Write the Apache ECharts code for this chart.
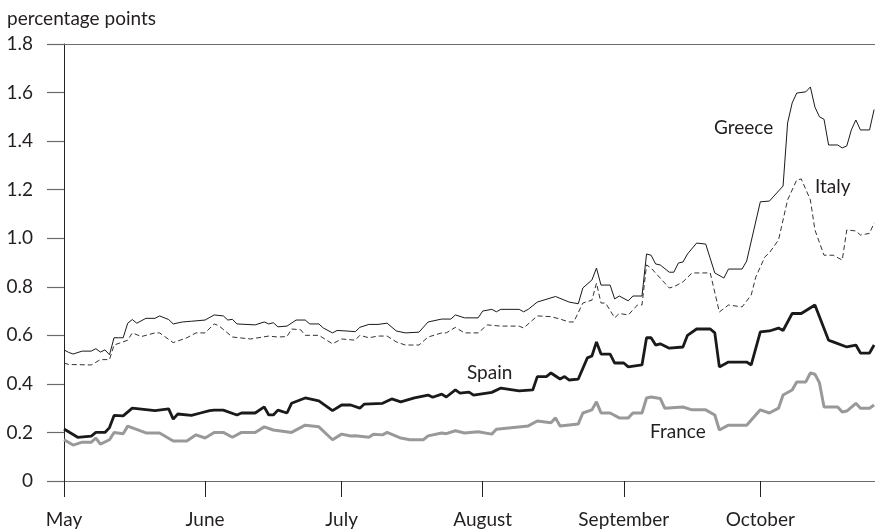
<!DOCTYPE html>
<html>
<head>
<meta charset="utf-8">
<script src="https://cdn.jsdelivr.net/npm/echarts@6/dist/echarts.min.js"></script>
<style>
html,body{margin:0;padding:0;background:#fff;}
#chart{width:875px;height:530px;}
</style>
</head>
<body>
<div id="chart"></div>
<script>
// x values are days since 1 May
const monthStarts = [0, 31, 61, 92, 123, 153];
const monthNames = ['May', 'June', 'July', 'August', 'September', 'October'];
const yTicks = [0, 0.2, 0.4, 0.6, 0.8, 1.0, 1.2, 1.4, 1.6, 1.8];

const greeceDays = [0,1,2,4,6,7,8,9,10,11,12,13,14,15,16,18,20,21,23,24,26,28,31,33,35,36,37,38,42,44,45,46,47,49,51,53,54,56,57,59,60,62,64,65,67,69,71,73,75,78,80,83,85,86,88,91,92,94,95,96,100,101,102,104,108,111,113,114,116,117,118,120,121,122,124,125,127,128,129,130,131,133,134,135,136,137,139,141,143,145,146,149,150,153,155,158,159,160,161,163,164,165,166,167,168,170,171,172,173,174,175,177,178];
const greeceValues = [0.54,0.53,0.523,0.535,0.535,0.545,0.531,0.54,0.52,0.59,0.59,0.59,0.65,0.665,0.65,0.67,0.67,0.68,0.665,0.647,0.655,0.658,0.663,0.684,0.68,0.663,0.666,0.647,0.643,0.655,0.647,0.652,0.635,0.638,0.663,0.663,0.647,0.647,0.63,0.61,0.62,0.618,0.615,0.633,0.645,0.645,0.65,0.618,0.61,0.613,0.655,0.667,0.667,0.684,0.672,0.672,0.7,0.707,0.697,0.707,0.707,0.697,0.707,0.737,0.76,0.737,0.73,0.795,0.828,0.877,0.807,0.807,0.75,0.762,0.742,0.762,0.762,0.935,0.93,0.894,0.89,0.86,0.86,0.898,0.902,0.935,0.98,0.976,0.857,0.836,0.873,0.873,0.906,1.15,1.153,1.215,1.475,1.557,1.598,1.603,1.623,1.54,1.5,1.49,1.384,1.384,1.372,1.38,1.446,1.487,1.446,1.446,1.53];

const italyDays = [0,1,6,8,10,11,14,15,17,20,21,24,27,29,31,33,34,37,41,45,47,49,50,52,53,56,59,61,64,65,67,69,71,73,75,78,80,83,84,86,88,91,93,96,100,101,104,107,109,111,112,114,116,117,118,119,121,122,124,126,127,128,129,133,134,136,138,142,144,146,149,151,152,154,155,157,159,161,162,164,165,167,169,171,172,174,175,177,178];
const italyValues = [0.486,0.48,0.478,0.5,0.5,0.56,0.58,0.61,0.595,0.61,0.61,0.57,0.59,0.61,0.61,0.647,0.64,0.593,0.585,0.597,0.593,0.595,0.626,0.623,0.6,0.6,0.565,0.585,0.58,0.6,0.59,0.597,0.597,0.573,0.56,0.56,0.593,0.61,0.61,0.633,0.61,0.61,0.643,0.638,0.638,0.63,0.68,0.677,0.667,0.655,0.655,0.733,0.745,0.815,0.733,0.733,0.672,0.69,0.684,0.725,0.725,0.89,0.877,0.795,0.8,0.82,0.857,0.857,0.696,0.725,0.717,0.766,0.84,0.923,0.94,0.993,1.158,1.24,1.244,1.158,1.034,0.93,0.93,0.91,1.034,1.03,1.013,1.02,1.063];

const spainDays = [0,3,6,7,9,10,11,13,15,20,23,24,25,28,30,32,33,35,38,39,42,44,45,46,47,49,50,53,56,59,61,63,65,66,70,72,74,77,80,81,83,84,86,87,89,90,94,96,100,103,104,106,107,109,110,111,113,115,116,117,118,120,121,123,124,127,128,129,130,131,133,136,137,139,142,143,144,146,150,151,153,155,157,158,160,162,165,168,169,172,174,175,177,178];
const spainValues = [0.214,0.18,0.185,0.2,0.2,0.22,0.27,0.268,0.3,0.29,0.297,0.255,0.276,0.27,0.28,0.29,0.292,0.292,0.272,0.28,0.28,0.305,0.272,0.272,0.292,0.28,0.32,0.342,0.33,0.29,0.313,0.313,0.3,0.317,0.32,0.338,0.326,0.342,0.354,0.345,0.358,0.346,0.375,0.362,0.366,0.354,0.365,0.383,0.371,0.375,0.43,0.43,0.445,0.42,0.43,0.416,0.42,0.507,0.515,0.573,0.523,0.523,0.486,0.486,0.47,0.478,0.59,0.59,0.56,0.565,0.547,0.552,0.6,0.626,0.626,0.61,0.47,0.49,0.49,0.478,0.614,0.618,0.63,0.62,0.69,0.69,0.725,0.58,0.573,0.552,0.56,0.527,0.527,0.56];

const franceDays = [0,2,4,6,7,8,10,11,13,14,18,21,24,27,29,31,33,35,37,39,42,44,46,50,53,56,59,61,63,64,67,68,70,71,74,76,79,80,83,84,86,88,91,94,95,102,104,107,108,109,113,114,116,117,118,120,122,124,125,127,128,129,131,132,136,138,141,143,144,146,150,153,155,157,158,160,161,163,164,165,166,167,170,171,172,174,175,177,178];
const franceValues = [0.17,0.148,0.16,0.16,0.177,0.152,0.17,0.2,0.195,0.226,0.198,0.198,0.165,0.165,0.19,0.177,0.2,0.2,0.18,0.2,0.2,0.223,0.21,0.2,0.23,0.223,0.17,0.193,0.185,0.186,0.18,0.193,0.19,0.2,0.177,0.17,0.17,0.186,0.198,0.195,0.207,0.198,0.203,0.193,0.213,0.227,0.247,0.24,0.26,0.227,0.235,0.28,0.293,0.326,0.28,0.28,0.26,0.26,0.28,0.28,0.342,0.346,0.34,0.3,0.305,0.293,0.293,0.272,0.21,0.23,0.23,0.293,0.28,0.3,0.354,0.375,0.408,0.408,0.445,0.44,0.404,0.305,0.305,0.284,0.288,0.32,0.3,0.3,0.313];

const seriesNames = ['Greece', 'Italy', 'Spain', 'France'];

function pairs(days, vals) { return days.map((d, i) => [d, vals[i]]); }

const FONT = 'Lato';
const FS = 19;
const AXIS_COLOR = '#6b6b6b';
const TEXT_COLOR = '#231f20';
const labelFont = FS + 'px "' + FONT + '"';

const chart = echarts.init(document.getElementById('chart'), null, {renderer: 'canvas'});
chart.setOption({
  animation: false,
  backgroundColor: '#fff',
  title: {
    text: 'percentage points',
    left: 7, top: 9, padding: 0,
    textStyle: {fontFamily: FONT, fontSize: FS, fontWeight: 'normal', color: TEXT_COLOR}
  },
  grid: {left: 64, right: 0, top: 44, bottom: 49},
  xAxis: [{
    type: 'value', min: 0, max: 178.2,
    axisLine: {show: true, lineStyle: {color: AXIS_COLOR, width: 1.2}},
    axisTick: {show: true, customValues: monthStarts, length: 16, lineStyle: {color: '#222', width: 1}},
    axisLabel: {
      customValues: monthStarts, margin: 29,
      fontFamily: FONT, fontSize: FS, color: TEXT_COLOR,
      formatter: v => monthNames[monthStarts.indexOf(Math.round(v))] || ''
    },
    splitLine: {show: false}
  }, {
    type: 'value', position: 'top', min: 0, max: 178.2,
    axisLine: {show: true, lineStyle: {color: AXIS_COLOR, width: 1.2}},
    axisTick: {show: false}, axisLabel: {show: false}, splitLine: {show: false}
  }],
  yAxis: {
    type: 'value', min: 0, max: 1.8, interval: 0.2,
    axisLine: {show: true, lineStyle: {color: '#222', width: 1}},
    axisTick: {show: true, length: 17, lineStyle: {color: AXIS_COLOR, width: 1.2}},
    axisLabel: {
      margin: 31, fontFamily: FONT, fontSize: FS, color: TEXT_COLOR,
      formatter: v => {
        const t = yTicks.find(x => Math.abs(x - v) < 1e-6);
        return t === 0 ? '0' : (t !== undefined ? t.toFixed(1) : '');
      }
    },
    splitLine: {show: false}
  },
  series: [
    {name: seriesNames[3], type: 'line', data: pairs(franceDays, franceValues), showSymbol: false, lineStyle: {color: '#999999', width: 3}, z: 2},
    {name: seriesNames[2], type: 'line', data: pairs(spainDays, spainValues), showSymbol: false, lineStyle: {color: '#1a1a1a', width: 2.8}, z: 3},
    {name: seriesNames[1], type: 'line', data: pairs(italyDays, italyValues), showSymbol: false, lineStyle: {color: '#333333', width: 1, type: [5, 3]}, z: 4},
    {name: seriesNames[0], type: 'line', data: pairs(greeceDays, greeceValues), showSymbol: false, lineStyle: {color: '#1a1a1a', width: 1}, z: 5}
  ],
  graphic: [
    {type: 'text', left: 714, top: 118, style: {text: seriesNames[0], font: labelFont, fill: TEXT_COLOR}},
    {type: 'text', left: 815, top: 177, style: {text: seriesNames[1], font: labelFont, fill: TEXT_COLOR}},
    {type: 'text', left: 467, top: 363, style: {text: seriesNames[2], font: labelFont, fill: TEXT_COLOR}},
    {type: 'text', left: 650, top: 422, style: {text: seriesNames[3], font: labelFont, fill: TEXT_COLOR}}
  ]
});
</script>
</body>
</html>
